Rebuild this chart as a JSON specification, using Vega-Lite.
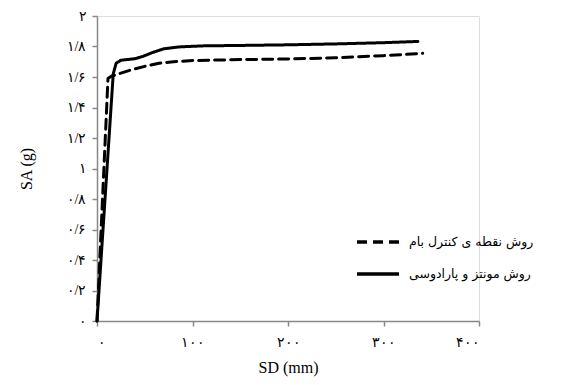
{
  "$schema": "https://vega.github.io/schema/vega-lite/v6.json",
  "autosize": "none",
  "width": 382,
  "height": 305,
  "padding": {"left": 97, "top": 16, "right": 85, "bottom": 64},
  "background": "white",
  "data": {
    "values": [
      {"series": "روش نقطه ی کنترل بام", "sd": 0, "sa": 0},
      {"series": "روش نقطه ی کنترل بام", "sd": 11.5, "sa": 1.59},
      {"series": "روش نقطه ی کنترل بام", "sd": 15, "sa": 1.605},
      {"series": "روش نقطه ی کنترل بام", "sd": 25, "sa": 1.625},
      {"series": "روش نقطه ی کنترل بام", "sd": 35, "sa": 1.645},
      {"series": "روش نقطه ی کنترل بام", "sd": 50, "sa": 1.67},
      {"series": "روش نقطه ی کنترل بام", "sd": 65, "sa": 1.69},
      {"series": "روش نقطه ی کنترل بام", "sd": 80, "sa": 1.70},
      {"series": "روش نقطه ی کنترل بام", "sd": 100, "sa": 1.708},
      {"series": "روش نقطه ی کنترل بام", "sd": 150, "sa": 1.714},
      {"series": "روش نقطه ی کنترل بام", "sd": 200, "sa": 1.718},
      {"series": "روش نقطه ی کنترل بام", "sd": 250, "sa": 1.726},
      {"series": "روش نقطه ی کنترل بام", "sd": 300, "sa": 1.74},
      {"series": "روش نقطه ی کنترل بام", "sd": 341, "sa": 1.755},
      {"series": "روش مونتز و پارادوسی", "sd": 0, "sa": 0},
      {"series": "روش مونتز و پارادوسی", "sd": 17, "sa": 1.62},
      {"series": "روش مونتز و پارادوسی", "sd": 20, "sa": 1.69},
      {"series": "روش مونتز و پارادوسی", "sd": 25, "sa": 1.71},
      {"series": "روش مونتز و پارادوسی", "sd": 40, "sa": 1.72},
      {"series": "روش مونتز و پارادوسی", "sd": 48, "sa": 1.735},
      {"series": "روش مونتز و پارادوسی", "sd": 58, "sa": 1.76},
      {"series": "روش مونتز و پارادوسی", "sd": 70, "sa": 1.785},
      {"series": "روش مونتز و پارادوسی", "sd": 85, "sa": 1.797},
      {"series": "روش مونتز و پارادوسی", "sd": 110, "sa": 1.804},
      {"series": "روش مونتز و پارادوسی", "sd": 150, "sa": 1.807},
      {"series": "روش مونتز و پارادوسی", "sd": 200, "sa": 1.811},
      {"series": "روش مونتز و پارادوسی", "sd": 250, "sa": 1.817},
      {"series": "روش مونتز و پارادوسی", "sd": 300, "sa": 1.825},
      {"series": "روش مونتز و پارادوسی", "sd": 336, "sa": 1.833}
    ]
  },
  "mark": {"type": "line", "strokeWidth": 3, "color": "black", "strokeCap": "round", "strokeJoin": "round"},
  "encoding": {
    "x": {
      "field": "sd", "type": "quantitative",
      "scale": {"domain": [0, 400], "nice": false},
      "axis": {"values": [0, 100, 200, 300, 400], "title": "SD (mm)", "grid": false, "domain": true, "ticks": true, "labelOverlap": false,
        "domainColor": "#888888", "domainWidth": 1.5, "tickColor": "#888888", "tickWidth": 1.5, "tickSize": 5,
        "labelColor": "black", "titleColor": "black", "labelFont": "Liberation Serif", "titleFont": "Liberation Serif", "labelFontSize": 14, "titleFontSize": 16, "titleFontWeight": "normal",
        "labelPadding": 9, "titlePadding": 10,
        "labelExpr": "replace(replace(replace(replace(replace(datum.label, regexp('0','g'), '۰'), regexp('1','g'), '۱'), regexp('2','g'), '۲'), regexp('3','g'), '۳'), regexp('4','g'), '۴')"}
    },
    "y": {
      "field": "sa", "type": "quantitative",
      "scale": {"domain": [0, 2], "nice": false},
      "axis": {"values": [0, 0.2, 0.4, 0.6, 0.8, 1, 1.2, 1.4, 1.6, 1.8, 2], "format": ".1~f", "title": "SA (g)", "grid": false, "domain": true, "ticks": true, "labelOverlap": false,
        "domainColor": "#888888", "domainWidth": 1.5, "tickColor": "#888888", "tickWidth": 1.5, "tickSize": 5,
        "labelColor": "black", "titleColor": "black", "labelFont": "Liberation Serif", "titleFont": "Liberation Serif", "labelFontSize": 14, "titleFontSize": 16, "titleFontWeight": "normal",
        "labelPadding": 6, "titlePadding": 32,
        "labelExpr": "replace(replace(replace(replace(replace(replace(replace(datum.label, regexp('0','g'), '۰'), regexp('1','g'), '۱'), regexp('2','g'), '۲'), regexp('4','g'), '۴'), regexp('6','g'), '۶'), regexp('8','g'), '۸'), regexp('\\\\.','g'), '/')"}
    },
    "strokeDash": {
      "field": "series", "type": "nominal",
      "scale": {"domain": ["روش نقطه ی کنترل بام", "روش مونتز و پارادوسی"], "range": [[10, 6], [1, 0]]},
      "legend": {"title": null, "orient": "none", "legendX": 258, "legendY": 203, "symbolType": "stroke", "symbolSize": 1764, "symbolStrokeWidth": 3.5, "symbolStrokeColor": "black", "labelFont": "DejaVu Sans", "labelFontSize": 12.5, "labelLimit": 300, "rowPadding": 2, "labelOffset": 8}
    }
  }
}
